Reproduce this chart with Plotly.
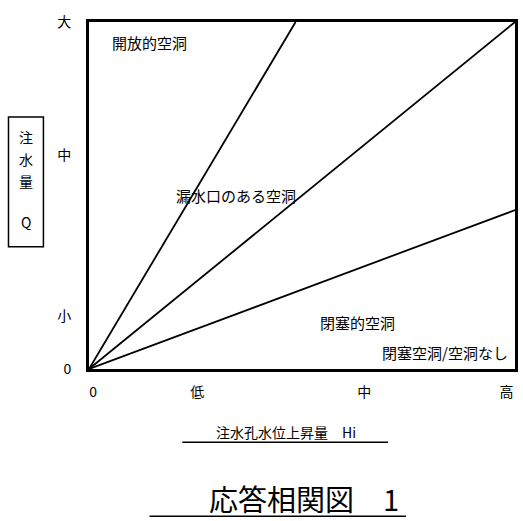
import plotly.graph_objects as go

# response lines: end points in normalised (Hi, Q) units
line_ends_x = [0.485, 1.0, 1.0]
line_ends_y = [1.0, 1.0, 0.458]

# region labels
region_text = ["開放的空洞", "漏水口のある空洞", "閉塞的空洞", "閉塞空洞/空洞なし"]
region_x = [0.049, 0.2, 0.538, 0.988]
region_y = [0.94, 0.499, 0.135, 0.049]
region_anchor = ["left", "left", "left", "right"]

x_tickvals = [0.01, 0.254, 0.646, 0.98]
x_ticktext = ["0", "低", "中", "高"]
y_tickvals = [0.0, 0.153, 0.617, 1.0]
y_ticktext = ["0", "小", "中", "大"]

# y title, one character per row
ytitle_chars = ["注", "水", "量", "Q"]
ytitle_y = [0.668, 0.605, 0.542, 0.424]

FONT = "Noto Sans CJK JP"

fig = go.Figure()
for xe, ye in zip(line_ends_x, line_ends_y):
    fig.add_trace(go.Scatter(
        x=[0, xe], y=[0, ye], mode="lines",
        line=dict(color="black", width=1.8),
        showlegend=False, hoverinfo="skip",
    ))

for t, x, y, a in zip(region_text, region_x, region_y, region_anchor):
    fig.add_annotation(x=x, y=y, text=t, showarrow=False, xanchor=a, yanchor="middle",
                       font=dict(family=FONT, size=15, color="black"))

# y axis title in a box
for c, y in zip(ytitle_chars, ytitle_y):
    fig.add_annotation(xref="paper", yref="paper", x=-0.149, y=y, text=c,
                       showarrow=False, xanchor="center", yanchor="middle",
                       font=dict(family=FONT, size=14, color="black"))
fig.add_shape(type="rect", xref="paper", yref="paper",
              x0=-0.189, x1=-0.107, y0=0.352, y1=0.726,
              line=dict(color="black", width=1.5))

# x axis title with underline
fig.add_annotation(
    xref="paper", yref="paper", x=0.462, y=-0.182,
    xanchor="center", yanchor="middle",
    text="注水孔水位上昇量　Hi", showarrow=False,
    font=dict(family=FONT, size=14, color="black"),
)
fig.add_shape(type="line", xref="paper", yref="paper",
              x0=0.219, x1=0.702, y0=-0.211, y1=-0.211,
              line=dict(color="black", width=1.5))

# chart title with underline
fig.add_annotation(
    xref="paper", yref="paper", x=0.504, y=-0.372,
    xanchor="center", yanchor="middle",
    text="応答相関図　1", showarrow=False,
    font=dict(family=FONT, size=29, color="black"),
)
fig.add_shape(type="line", xref="paper", yref="paper",
              x0=0.142, x1=0.744, y0=-0.424, y1=-0.424,
              line=dict(color="black", width=1.5))

fig.update_xaxes(
    range=[0, 1], showgrid=False, zeroline=False,
    showline=True, linewidth=3, linecolor="black", mirror=True,
    tickvals=x_tickvals, ticktext=x_ticktext, ticks="",
    ticklabelstandoff=8,
    tickfont=dict(family=FONT, size=14, color="black"),
)
fig.update_yaxes(
    range=[0, 1], showgrid=False, zeroline=False,
    showline=True, linewidth=3, linecolor="black", mirror=True,
    tickvals=y_tickvals, ticktext=y_ticktext, ticks="",
    ticklabelstandoff=12,
    tickfont=dict(family=FONT, size=14, color="black"),
)

fig.update_layout(
    width=523, height=521,
    margin=dict(l=89, r=5, t=22, b=152),
    plot_bgcolor="white", paper_bgcolor="white",
)

fig.write_html("out.html", config={"displayModeBar": False},
               post_script="document.body.style.margin='0';")
